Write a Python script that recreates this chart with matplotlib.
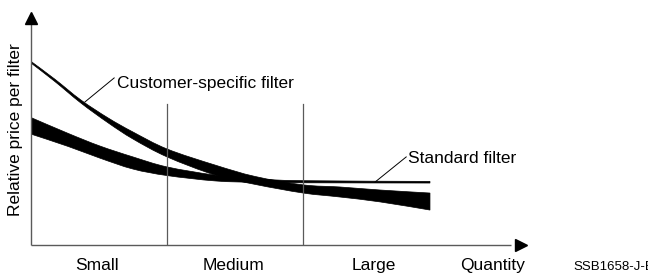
import matplotlib.pyplot as plt
import numpy as np
from matplotlib.path import Path
from matplotlib.patches import PathPatch

plt.rcParams['font.family'] = ['Liberation Sans', 'DejaVu Sans']

# quantity axis 0..100, price axis 0..100 (arbitrary units)
custom_x = [0, 4.8, 10.1, 15.6, 20.6, 27.5, 37.2, 45.3, 55.0, 62.4, 70.5, 80.6]
custom_hi = [78.8, 71.2, 62.2, 54.5, 48.5, 41.2, 34.3, 29.4, 25.8, 24.9, 23.6, 22.3]
custom_lo = [78.1, 70.2, 60.9, 52.4, 45.5, 37.8, 30.0, 26.0, 22.3, 20.6, 18.5, 15.0]

std_x = [0, 7.5, 13.9, 20.6, 27.5, 37.2, 45.3, 55.0, 80.6]
std_hi = [54.7, 47.9, 42.5, 37.8, 33.5, 30.0, 28.4, 27.6, 27.3]
std_lo = [47.6, 42.3, 37.3, 32.6, 29.8, 27.5, 26.9, 26.7, 26.6]

dividers = [27.5, 55.0]
size_labels = ['Small', 'Medium', 'Large']
size_pos = [13.3, 41.0, 69.3]


def curve_segments(xs, ys):
    # smooth cubic pieces through the given points
    p = np.column_stack([xs, ys]).astype(float)
    verts = []
    for i in range(len(p) - 1):
        p0 = p[i - 1] if i > 0 else p[i]
        p3 = p[i + 2] if i + 2 < len(p) else p[i + 1]
        verts += [p[i] + (p[i + 1] - p0) / 6, p[i + 1] - (p3 - p[i]) / 6, p[i + 1]]
    return verts


def band(ax, xs, lo, hi):
    verts = [(xs[0], hi[0])] + curve_segments(xs, hi)
    codes = [Path.MOVETO] + [Path.CURVE4] * (len(verts) - 1)
    rx, rlo = xs[::-1], lo[::-1]
    low = curve_segments(rx, rlo)
    verts += [(rx[0], rlo[0])] + low + [(xs[0], hi[0])]
    codes += [Path.LINETO] + [Path.CURVE4] * len(low) + [Path.CLOSEPOLY]
    ax.add_patch(PathPatch(Path(verts, codes), facecolor='black', edgecolor='black', lw=0.5))


fig = plt.figure(figsize=(6.48, 2.74), dpi=100)
ax = fig.add_axes([31 / 648, 29 / 274, 495 / 648, 233 / 274])
ax.set_xlim(0, 100)
ax.set_ylim(0, 100)
ax.axis('off')

axis_col = '#5a5a5a'
# axes with arrow heads
ax.plot([0, 0], [0, 96], color=axis_col, lw=1.0, clip_on=False, solid_capstyle='butt')
ax.plot([0, 97], [0, 0], color=axis_col, lw=1.0, clip_on=False, solid_capstyle='butt')
ax.plot([0], [97.6], marker='^', ms=8, color='black', clip_on=False)
ax.plot([98.9], [0], marker='>', ms=8, color='black', clip_on=False)

for d in dividers:
    ax.plot([d, d], [0, 60.5], color=axis_col, lw=0.9)

# price bands
band(ax, custom_x, custom_lo, custom_hi)
band(ax, std_x, std_lo, std_hi)

# callouts
ax.plot([10.9, 16.8], [61.4, 71.7], color='black', lw=0.7)
ax.text(17.4, 67.4, 'Customer-specific filter', fontsize=12.5, va='baseline', ha='left')
ax.plot([69.5, 75.8], [27.0, 37.8], color='black', lw=0.7)
ax.text(76.2, 35.2, 'Standard filter', fontsize=12.5, va='baseline', ha='left')

ax.text(-3.2, 49.4, 'Relative price per filter', fontsize=12.5, rotation=90,
        ha='center', va='center', clip_on=False)

for lab, p in zip(size_labels, size_pos):
    ax.text(p, -10.7, lab, fontsize=12.5, ha='center', va='baseline', clip_on=False)
ax.text(93.3, -10.7, 'Quantity', fontsize=12.5, ha='center', va='baseline', clip_on=False)

# figure code, cut at the right edge as in the original
fig.text(573 / 648, 4 / 274, 'SSB1658-J-E', fontsize=9.5, ha='left', va='baseline')

fig.savefig('out.png', dpi=100)
